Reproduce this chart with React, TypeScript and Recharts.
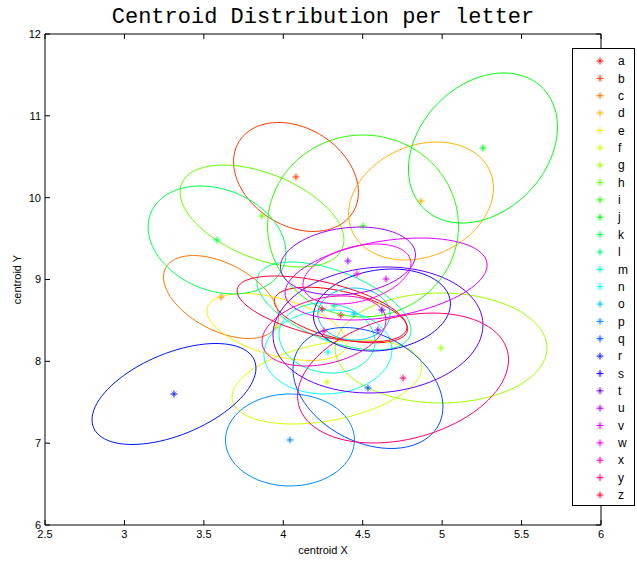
import React from 'react';
import { ScatterChart, Scatter, XAxis, YAxis, Legend } from 'recharts';

// one entry per letter: centroid, spread (half extent) and tilt (correlation) of its ellipse
const letters = 'abcdefghijklmnopqrstuvwxyz'.split('');
const centerX = [4.363, 4.08, 3.608, 4.867, 3.96, 4.275, 4.993, 3.866, 4.502, 5.257, 3.583, 4.319, 4.275, 4.281, 4.445, 4.042, 4.533, 3.312, 4.621, 4.596, 4.407, 4.647, 4.464, 4.256, 4.754, 4.244];
const centerY = [8.566, 10.253, 8.786, 9.959, 8.42, 7.747, 8.163, 9.776, 9.654, 10.607, 9.483, 8.676, 8.285, 8.114, 8.578, 7.039, 7.674, 7.601, 8.627, 8.383, 9.226, 9.006, 9.067, 8.371, 7.796, 8.64];
const spreadX = [0.42, 0.393, 0.362, 0.456, 0.441, 0.598, 0.667, 0.516, 0.601, 0.469, 0.434, 0.485, 0.302, 0.403, 0.227, 0.406, 0.472, 0.516, 0.431, 0.661, 0.425, 0.636, 0.34, 0.39, 0.664, 0.535];
const spreadY = [0.34, 0.666, 0.507, 0.721, 0.409, 0.513, 0.672, 0.623, 1.112, 0.917, 0.66, 0.538, 0.428, 0.513, 0.318, 0.562, 0.739, 0.617, 0.501, 0.77, 0.415, 0.501, 0.367, 0.428, 0.794, 0.403];
const tilt = [-0.5, -0.28, -0.48, 0.22, -0.48, 0.36, 0, -0.47, 0, 0.28, -0.24, -0.55, -0.1, 0.05, 0, 0, -0.31, 0.51, 0.15, 0.08, 0.18, 0.34, 0.35, 0.3, 0.28, -0.55];

const xTicks = [2.5, 3, 3.5, 4, 4.5, 5, 5.5, 6];
const yTicks = [6, 7, 8, 9, 10, 11, 12];

// matlab hsv colormap
function hsvColor(k: number, n: number) {
  const hue = (k / n) * 6;
  const sector = Math.floor(hue);
  const f = hue - sector;
  const up = Math.round(f * 255);
  const down = Math.round((1 - f) * 255);
  const rgb = [
    [255, up, 0],
    [down, 255, 0],
    [0, 255, up],
    [0, down, 255],
    [up, 0, 255],
    [255, 0, down],
  ][sector];
  return `rgb(${rgb[0]},${rgb[1]},${rgb[2]})`;
}

// outline of the spread ellipse around a centroid
function ellipseOutline(i: number) {
  const pts = [];
  const r = tilt[i];
  for (let s = 0; s <= 90; s++) {
    const t = (s / 90) * 2 * Math.PI;
    pts.push({
      x: centerX[i] + spreadX[i] * Math.cos(t),
      y: centerY[i] + spreadY[i] * (r * Math.cos(t) + Math.sqrt(1 - r * r) * Math.sin(t)),
    });
  }
  return pts;
}

const StarMark = (props: any) => {
  const { cx, cy, fill } = props;
  return (
    <g stroke={fill} strokeWidth={1}>
      <line x1={cx - 3.5} y1={cy} x2={cx + 3.5} y2={cy} />
      <line x1={cx} y1={cy - 3.5} x2={cx} y2={cy + 3.5} />
      <line x1={cx - 2.5} y1={cy - 2.5} x2={cx + 2.5} y2={cy + 2.5} strokeOpacity={0.45} />
      <line x1={cx - 2.5} y1={cy + 2.5} x2={cx + 2.5} y2={cy - 2.5} strokeOpacity={0.45} />
    </g>
  );
};

const NoMark = () => <g />;

const LetterLegend = ({ payload }: any) => {
  const items = (payload || []).filter((p: any) => p.type !== 'none');
  return (
    <svg width={63} height={458} style={{ display: 'block' }}>
      <rect x={0.5} y={0.5} width={62} height={457} fill="#fff" stroke="#000" />
      {items.map((p: any, i: number) => (
        <g key={p.value}>
          <StarMark cx={28} cy={13 + i * 17.36} fill={p.color} />
          <text x={46} y={13 + i * 17.36} dy="0.35em" fontSize={12} fontFamily="Liberation Sans, Arial, sans-serif" fill="#000">
            {p.value}
          </text>
        </g>
      ))}
    </svg>
  );
};

const tickFont = { fill: '#000', fontSize: 11, fontFamily: 'Liberation Sans, Arial, sans-serif' };

export default function App() {
  return (
    <div style={{ position: 'absolute', left: 0, top: 0, width: 637, height: 563, background: '#fff' }}>
      <div
        style={{
          position: 'absolute',
          left: 0,
          top: 4,
          width: 646,
          textAlign: 'center',
          fontFamily: '"Liberation Mono", "DejaVu Sans Mono", monospace',
          fontSize: 22,
          lineHeight: '28px',
          color: '#000',
          zIndex: 2,
        }}
      >
        Centroid Distribution per letter
      </div>
      <ScatterChart width={637} height={563} margin={{ top: 33, right: 35, bottom: 6, left: 15 }}>
        <XAxis
          type="number"
          dataKey="x"
          domain={[2.5, 6]}
          ticks={xTicks}
          interval={0}
          allowDataOverflow
          height={32}
          tickSize={-5}
          tickMargin={10}
          axisLine={{ stroke: '#000' }}
          tickLine={{ stroke: '#000' }}
          tick={tickFont}
          label={{ value: 'centroid X', position: 'insideBottom', offset: 3, fill: '#000', fontSize: 11, fontFamily: 'Liberation Sans, Arial, sans-serif' }}
        />
        <XAxis
          xAxisId="top"
          orientation="top"
          type="number"
          dataKey="x"
          domain={[2.5, 6]}
          ticks={xTicks}
          interval={0}
          allowDataOverflow
          height={1}
          tickSize={-5}
          axisLine={{ stroke: '#000' }}
          tickLine={{ stroke: '#000' }}
          tick={() => <g />}
        />
        <YAxis
          type="number"
          dataKey="y"
          domain={[6, 12]}
          ticks={yTicks}
          interval={0}
          allowDataOverflow
          width={30}
          tickSize={-5}
          tickMargin={9}
          axisLine={{ stroke: '#000' }}
          tickLine={{ stroke: '#000' }}
          tick={tickFont}
          label={{
            value: 'centroid Y',
            angle: -90,
            position: 'insideLeft',
            offset: 2,
            fill: '#000',
            fontSize: 11,
            fontFamily: 'Liberation Sans, Arial, sans-serif',
            style: { textAnchor: 'middle' },
          }}
        />
        <YAxis
          yAxisId="right"
          orientation="right"
          type="number"
          dataKey="y"
          domain={[6, 12]}
          ticks={yTicks}
          interval={0}
          allowDataOverflow
          width={1}
          tickSize={-5}
          axisLine={{ stroke: '#000' }}
          tickLine={{ stroke: '#000' }}
          tick={() => <g />}
        />
        {letters.map((letter, i) => {
          const color = hsvColor(i, letters.length);
          return (
            <React.Fragment key={letter}>
              <Scatter
                name={letter}
                data={[{ x: centerX[i], y: centerY[i] }]}
                fill={color}
                shape={StarMark}
                isAnimationActive={false}
              />
              <Scatter
                name={`${letter}-spread`}
                data={ellipseOutline(i)}
                fill={color}
                line={{ stroke: color, strokeWidth: 1 }}
                lineType="joint"
                shape={NoMark}
                legendType="none"
                isAnimationActive={false}
              />
            </React.Fragment>
          );
        })}
        <Legend
          layout="vertical"
          align="center"
          verticalAlign="middle"
          content={LetterLegend}
          wrapperStyle={{ position: 'absolute', left: 572, top: 48, width: 63, height: 458 }}
        />
      </ScatterChart>
    </div>
  );
}
